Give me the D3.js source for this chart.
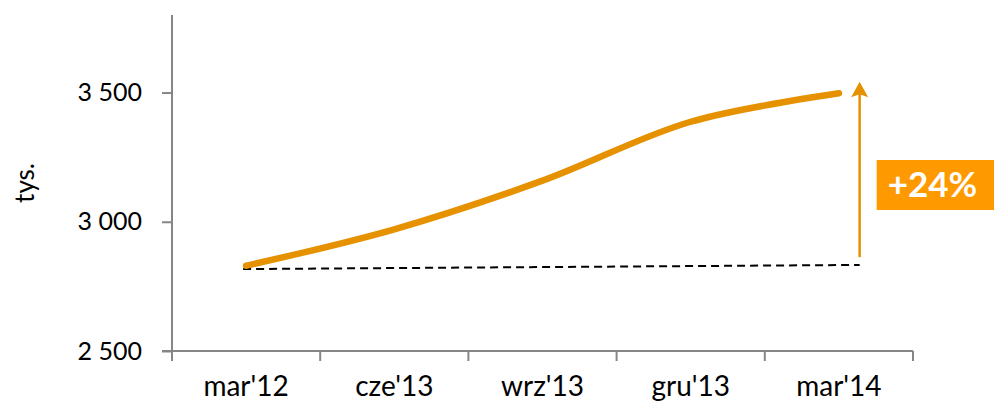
<!DOCTYPE html>
<html>
<head>
<meta charset="utf-8">
<script src="https://cdn.jsdelivr.net/npm/d3@7"></script>
<style>
  html, body { margin: 0; padding: 0; background: #fff; }
  svg { display: block; }
  text { font-family: Lato, "Liberation Sans", sans-serif; fill: #000; }
</style>
</head>
<body>
<svg id="chart" width="994" height="402"></svg>
<script>
// Quarterly values, thousands
const categories = ["mar'12", "cze'13", "wrz'13", "gru'13", "mar'14"];
const values = [2830, 2971, 3159, 3387, 3497];
const yTicks = [2500, 3000, 3500];
const yDomain = [2500, 3800];
const baseline = [2817, 2833];     // dashed reference level, start and end
const arrowRange = [2863, 3542];   // growth arrow, bottom and tip
const growthLabel = "+24%";
const yTitle = "tys.";

const svg = d3.select("#chart");
const W = 994, H = 402;
const m = { left: 172, right: 81, top: 15, bottom: 51 };

const x = d3.scaleBand().domain(categories).range([m.left, W - m.right]).padding(0);
const y = d3.scaleLinear().domain(yDomain).range([H - m.bottom, m.top]);
const cx = d => x(d) + x.bandwidth() / 2;

const axisColor = "#868686";
const lineColor = "#E69100";
const boxColor = "#FF9900";

// y axis
const yAxis = svg.append("g")
  .attr("transform", `translate(${m.left},0)`)
  .call(d3.axisLeft(y).tickValues(yTicks).tickSize(10).tickPadding(20)
    .tickFormat(d => d3.format(",")(d).replace(",", " ")));
yAxis.select(".domain").attr("stroke", axisColor).attr("stroke-width", 2)
  .attr("d", `M0,${y(yDomain[1])}V${y(yDomain[0])}`);
yAxis.selectAll(".tick line").attr("stroke", axisColor).attr("stroke-width", 2);
yAxis.selectAll(".tick text").attr("font-size", 25).attr("font-family", "Lato");

// x axis with ticks between categories
const xAxis = svg.append("g")
  .attr("transform", `translate(0,${y(yDomain[0])})`)
  .call(d3.axisBottom(x).tickSize(0).tickPadding(25));
xAxis.select(".domain").attr("stroke", axisColor).attr("stroke-width", 2)
  .attr("d", `M${m.left - 10},0H${W - m.right}`);
xAxis.selectAll(".tick text").attr("font-size", 28).attr("font-family", "Lato");
const bounds = categories.map(c => x(c)).concat([x(categories[categories.length - 1]) + x.bandwidth()]);
xAxis.selectAll(".sep").data(bounds).enter().append("line")
  .attr("class", "sep")
  .attr("x1", d => d).attr("x2", d => d)
  .attr("y1", 0).attr("y2", 10)
  .attr("stroke", axisColor).attr("stroke-width", 2);

// y title
svg.append("text")
  .attr("transform", `translate(34,${(y(yDomain[0]) + y(yDomain[1])) / 2}) rotate(-90)`)
  .attr("text-anchor", "middle")
  .attr("font-size", 26)
  .text(yTitle);

// arrow x position, a bit right of the last point
const arrowX = cx(categories[categories.length - 1]) + x.bandwidth() * 0.14;
const startX = cx(categories[0]) - 3;

// dashed reference line
svg.append("line")
  .attr("x1", startX).attr("y1", y(baseline[0]))
  .attr("x2", arrowX).attr("y2", y(baseline[1]))
  .attr("stroke", "#000").attr("stroke-width", 2)
  .attr("stroke-dasharray", "8,5");

// main smoothed line
const line = d3.line()
  .x((d, i) => cx(categories[i]))
  .y(d => y(d))
  .curve(d3.curveCatmullRom.alpha(0.5));
svg.append("path")
  .datum(values)
  .attr("d", line)
  .attr("fill", "none")
  .attr("stroke", lineColor)
  .attr("stroke-width", 6.5)
  .attr("stroke-linecap", "round")
  .attr("stroke-linejoin", "round");

// growth arrow
const tipY = y(arrowRange[1]);
svg.append("line")
  .attr("x1", arrowX).attr("x2", arrowX)
  .attr("y1", y(arrowRange[0])).attr("y2", tipY + 10)
  .attr("stroke", lineColor).attr("stroke-width", 2.5);
svg.append("path")
  .attr("d", `M${arrowX},${tipY} L${arrowX + 8.5},${tipY + 15.5} L${arrowX},${tipY + 12.5} L${arrowX - 8.5},${tipY + 15.5} Z`)
  .attr("fill", lineColor);

// growth label box
const box = svg.append("g").attr("transform", `translate(${arrowX + 17},160)`);
box.append("rect").attr("width", W - arrowX - 17).attr("height", 50).attr("fill", boxColor);
box.append("text")
  .attr("x", 11).attr("y", 37)
  .attr("font-size", 35).attr("font-weight", "bold")
  .style("fill", "#fff")
  .text(growthLabel);
</script>
</body>
</html>
